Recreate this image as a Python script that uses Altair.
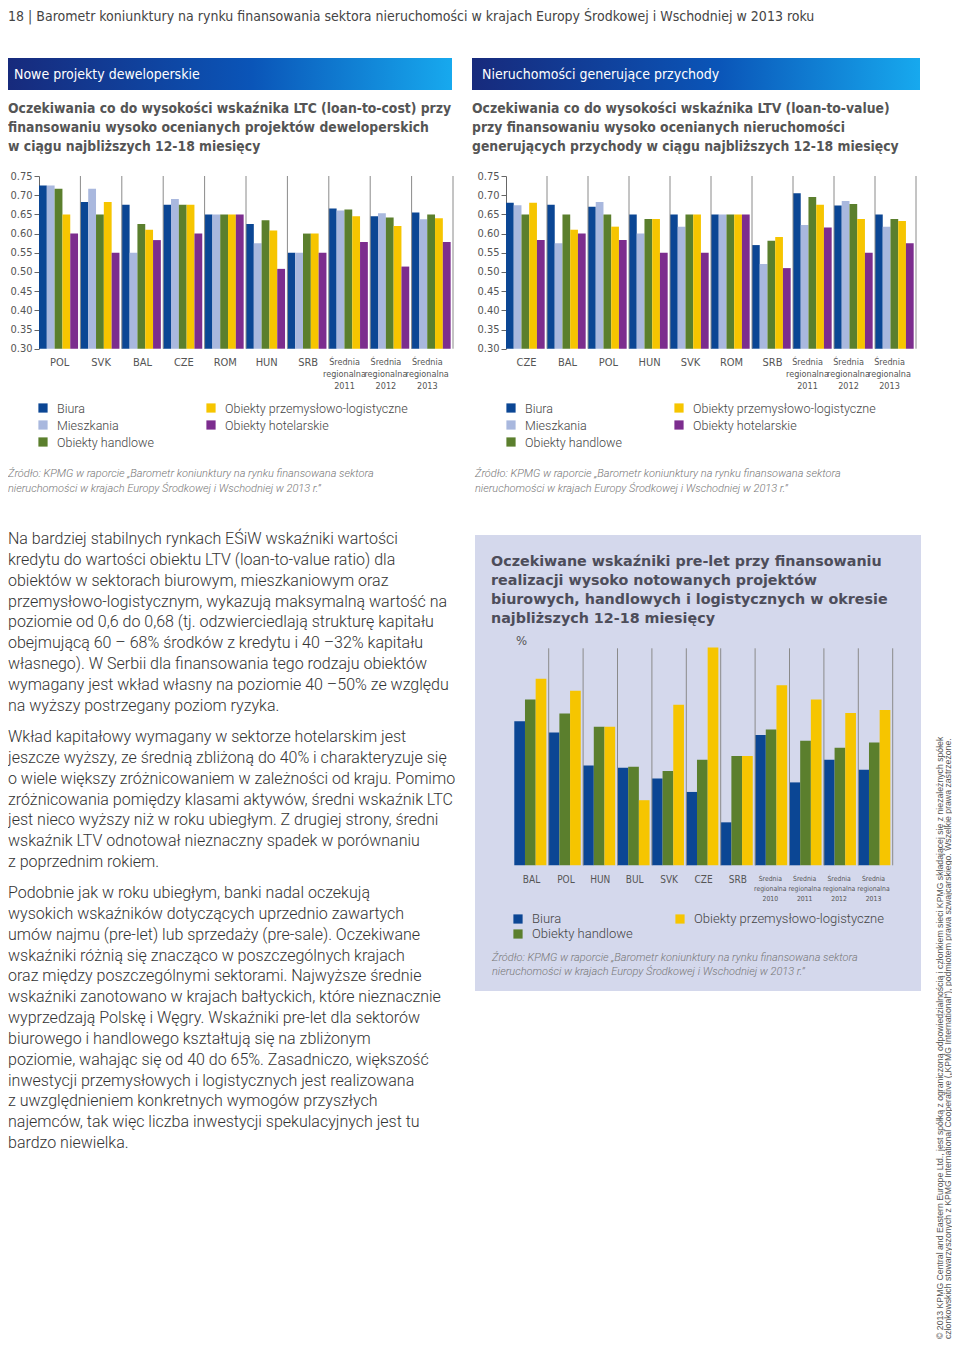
import altair as alt
import pandas as pd

# ---------------- data ----------------
SERIES = ["Biura", "Mieszkania", "Obiekty handlowe",
          "Obiekty przemysłowo-logistyczne", "Obiekty hotelarskie"]
COLORS = ["#0b4694", "#a9b8de", "#5b7f2d", "#f6c500", "#7c2d8e"]

ltc_cats = ["POL", "SVK", "BAL", "CZE", "ROM", "HUN", "SRB",
            "Średnia regionalna 2011", "Średnia regionalna 2012", "Średnia regionalna 2013"]
ltc_biura = [0.725, 0.682, 0.675, 0.675, 0.65, 0.625, 0.55, 0.665, 0.645, 0.655]
ltc_miesz = [0.725, 0.717, 0.55, 0.69, 0.65, 0.575, 0.55, 0.66, 0.653, 0.637]
ltc_handl = [0.717, 0.65, 0.625, 0.675, 0.65, 0.635, 0.60, 0.663, 0.642, 0.65]
ltc_przem = [0.65, 0.682, 0.61, 0.675, 0.65, 0.608, 0.60, 0.645, 0.62, 0.64]
ltc_hotel = [0.60, 0.55, 0.583, 0.60, 0.65, 0.508, 0.55, 0.578, 0.514, 0.578]

ltv_cats = ["CZE", "BAL", "POL", "HUN", "SVK", "ROM", "SRB",
            "Średnia regionalna 2011", "Średnia regionalna 2012", "Średnia regionalna 2013"]
ltv_biura = [0.68, 0.675, 0.67, 0.65, 0.65, 0.65, 0.57, 0.705, 0.673, 0.65]
ltv_miesz = [0.674, 0.575, 0.682, 0.60, 0.618, 0.65, 0.521, 0.622, 0.685, 0.618]
ltv_handl = [0.65, 0.65, 0.65, 0.638, 0.65, 0.65, 0.581, 0.695, 0.677, 0.638]
ltv_przem = [0.68, 0.61, 0.618, 0.638, 0.65, 0.65, 0.591, 0.675, 0.638, 0.633]
ltv_hotel = [0.583, 0.60, 0.583, 0.55, 0.55, 0.65, 0.51, 0.616, 0.55, 0.575]

pl_cats = ["BAL", "POL", "HUN", "BUL", "SVK", "CZE", "SRB",
           "Średnia regionalna 2010", "Średnia regionalna 2011",
           "Średnia regionalna 2012", "Średnia regionalna 2013"]
pl_series = ["Biura", "Obiekty handlowe", "Obiekty przemysłowo-logistyczne"]
pl_biura = [63.2, 60.6, 53.0, 52.5, 50.0, 46.9, 39.9, 60.0, 49.1, 54.3, 52.0]
pl_handl = [68.2, 65.0, 61.9, 52.7, 51.7, 54.3, 55.2, 61.3, 58.7, 57.1, 58.3]
pl_przem = [73.0, 70.2, 61.9, 45.0, 67.0, 80.2, 55.2, 71.5, 68.2, 65.1, 65.8]

ltc_ticks = [0.30, 0.35, 0.40, 0.45, 0.50, 0.55, 0.60, 0.65, 0.70, 0.75]
pl_ticks = [30, 35, 40, 45, 50, 55, 60, 65, 70, 75, 80]

page_header = ("18 | Barometr koniunktury na rynku finansowania sektora nieruchomości "
               "w krajach Europy Środkowej i Wschodniej w 2013 roku")
head_left = "Nowe projekty deweloperskie"
head_right = "Nieruchomości generujące przychody"
title_left = ["Oczekiwania co do wysokości wskaźnika LTC (loan-to-cost) przy",
              "finansowaniu wysoko ocenianych projektów deweloperskich",
              "w ciągu najbliższych 12-18 miesięcy"]
title_right = ["Oczekiwania co do wysokości wskaźnika LTV (loan-to-value)",
               "przy finansowaniu wysoko ocenianych nieruchomości",
               "generujących przychody w ciągu najbliższych 12-18 miesięcy"]
title_pl = ["Oczekiwane wskaźniki pre-let przy finansowaniu",
            "realizacji wysoko notowanych projektów",
            "biurowych, handlowych i logistycznych w okresie",
            "najbliższych 12-18 miesięcy"]
source = ["Źródło: KPMG w raporcie „Barometr koniunktury na rynku finansowana sektora",
          "nieruchomości w krajach Europy Środkowej i Wschodniej w 2013 r.”"]
para1 = ["Na bardziej stabilnych rynkach EŚiW wskaźniki wartości",
         "kredytu do wartości obiektu LTV (loan-to-value ratio) dla",
         "obiektów w sektorach biurowym, mieszkaniowym oraz",
         "przemysłowo-logistycznym, wykazują maksymalną wartość na",
         "poziomie od 0,6 do 0,68 (tj. odzwierciedlają strukturę kapitału",
         "obejmującą 60 – 68% środków z kredytu i 40 –32% kapitału",
         "własnego). W Serbii dla finansowania tego rodzaju obiektów",
         "wymagany jest wkład własny na poziomie 40 –50% ze względu",
         "na wyższy postrzegany poziom ryzyka."]
para2 = ["Wkład kapitałowy wymagany w sektorze hotelarskim jest",
         "jeszcze wyższy, ze średnią zbliżoną do 40% i charakteryzuje się",
         "o wiele większy zróżnicowaniem w zależności od kraju. Pomimo",
         "zróżnicowania pomiędzy klasami aktywów, średni wskaźnik LTC",
         "jest nieco wyższy niż w roku ubiegłym. Z drugiej strony, średni",
         "wskaźnik LTV odnotował nieznaczny spadek w porównaniu",
         "z poprzednim rokiem."]
para3 = ["Podobnie jak w roku ubiegłym, banki nadal oczekują",
         "wysokich wskaźników dotyczących uprzednio zawartych",
         "umów najmu (pre-let) lub sprzedaży (pre-sale). Oczekiwane",
         "wskaźniki różnią się znacząco w poszczególnych krajach",
         "oraz między poszczególnymi sektorami. Najwyższe średnie",
         "wskaźniki zanotowano w krajach bałtyckich, które nieznacznie",
         "wyprzedzają Polskę i Węgry. Wskaźniki pre-let dla sektorów",
         "biurowego i handlowego kształtują się na zbliżonym",
         "poziomie, wahając się od 40 do 65%. Zasadniczo, większość",
         "inwestycji przemysłowych i logistycznych jest realizowana",
         "z uwzględnieniem konkretnych wymogów przyszłych",
         "najemców, tak więc liczba inwestycji spekulacyjnych jest tu",
         "bardzo niewielka."]
copy1 = ("© 2013 KPMG Central and Eastern Europe Ltd., jest spółką z ograniczoną "
         "odpowiedzialnością i członkiem sieci KPMG składającej się z niezależnych spółek")
copy2 = ("członkowskich stowarzyszonych z KPMG International Cooperative („KPMG International”), "
         "podmiotem prawa szwajcarskiego. Wszelkie prawa zastrzeżone.")

# ---------------- helpers ----------------
NARROW = "Liberation Sans Narrow, Arial Narrow, DejaVu Sans Condensed, sans-serif"
BODY = "Roboto, Liberation Sans, sans-serif"
M = 8  # page margin
one = pd.DataFrame({"k": [0]})


def long_df(cats, names, values):
    rows = []
    for s, vals in zip(names, values):
        for c, v in zip(cats, vals):
            rows.append({"cat": c, "series": s, "value": v})
    return pd.DataFrame(rows)


def text_block(lines, x, yc, size, font=BODY, color="#333333", weight="normal",
               style="normal", lh=None, min_top=0):
    txt = lines if isinstance(lines, str) else (lines if len(lines) > 1 else lines[0])
    props = dict(text=txt, font=font, fontSize=size, fontWeight=weight, fontStyle=style,
                 color=color, align="left", baseline="top",
                 lineHeight=lh if lh else size * 1.2)
    ytop = yc - 0.44 * size
    return alt.Chart(one).mark_text(**props).encode(
        x=alt.value(x - M), y=alt.value(max(ytop - M, min_top)))


def rect(x1, x2, y1, y2, fill):
    return alt.Chart(one).mark_rect(fill=fill).encode(
        x=alt.value(max(x1 - M, 0)), x2=alt.value(x2 - M),
        y=alt.value(y1 - M), y2=alt.value(y2 - M))


def legend(items, col_x, ys, size=12.5):
    layers = []
    for name, cx, y in zip(items, col_x, ys):
        col = COLORS[SERIES.index(name)]
        layers.append(alt.Chart(one).mark_square(size=85, color=col, opacity=1).encode(
            x=alt.value(cx - M), y=alt.value(y - M)))
        layers.append(text_block(name, cx + 14, y, size, color="#444444", weight=300))
    return layers


def bar_chart(df, cats, series, xr, yr, ydom, yvals, yfmt, ylab_size,
              lab_y, lab_size, reg_size, reg_lh, reg_dx, pad_outer):
    xs = alt.Scale(domain=cats, range=xr, paddingInner=0, paddingOuter=0)
    ys = alt.Scale(domain=ydom, range=yr, nice=False, zero=False)
    os_ = alt.Scale(domain=series, paddingInner=0, paddingOuter=pad_outer, align=0)
    yaxis = alt.Axis(orient="left", offset=-xr[0], values=yvals, format=yfmt, title=None,
                     grid=False, labelFont=NARROW, labelFontSize=ylab_size,
                     labelColor="#555555", domainColor="#666666", tickColor="#666666",
                     tickSize=5, labelPadding=2)
    bars = alt.Chart(df).mark_bar().encode(
        x=alt.X("cat:N", scale=xs, axis=None, sort=cats),
        xOffset=alt.XOffset("series:N", scale=os_, sort=series),
        y=alt.Y("value:Q", scale=ys, axis=yaxis),
        y2=alt.datum(ydom[0]),
        color=alt.Color("series:N", scale=alt.Scale(domain=SERIES, range=COLORS), legend=None),
    )
    cat_df = pd.DataFrame({"cat": cats})
    sep = alt.Chart(cat_df.iloc[1:]).mark_rule(color="#8a8a8a", strokeWidth=1).encode(
        x=alt.X("cat:N", scale=xs, axis=None, bandPosition=0),
        y=alt.datum(ydom[0]), y2=alt.datum(ydom[1]))
    sep_end = alt.Chart(cat_df.iloc[-1:]).mark_rule(color="#8a8a8a", strokeWidth=1).encode(
        x=alt.X("cat:N", scale=xs, axis=None, bandPosition=1),
        y=alt.datum(ydom[0]), y2=alt.datum(ydom[1]))
    simple = pd.DataFrame({"cat": [c for c in cats if " " not in c]})
    regional = pd.DataFrame({"cat": [c for c in cats if " " in c]})
    lab1 = alt.Chart(simple).mark_text(font=NARROW, fontSize=lab_size, color="#555555",
                                       baseline="top").encode(
        x=alt.X("cat:N", scale=xs, axis=None), y=alt.value(lab_y - 0.44 * lab_size - M),
        text="cat:N")
    lab2 = alt.Chart(regional).mark_text(font=NARROW, fontSize=reg_size, color="#555555",
                                         baseline="top", lineBreak=" ", lineHeight=reg_lh,
                                         dx=reg_dx).encode(
        x=alt.X("cat:N", scale=xs, axis=None), y=alt.value(lab_y - 0.44 * reg_size - M),
        text="cat:N")
    return alt.layer(bars, sep, sep_end, lab1, lab2)


# ---------------- charts ----------------
ltc_df = long_df(ltc_cats, SERIES, [ltc_biura, ltc_miesz, ltc_handl, ltc_przem, ltc_hotel])
ltv_df = long_df(ltv_cats, SERIES, [ltv_biura, ltv_miesz, ltv_handl, ltv_przem, ltv_hotel])
pl_df = long_df(pl_cats, pl_series, [pl_biura, pl_handl, pl_przem])

chartA = bar_chart(ltc_df, ltc_cats, SERIES, [39 - M, 453 - M], [348.7 - M, 176 - M],
                   [0.30, 0.75], ltc_ticks, ".2f", 11, 362, 11, 9.0, 12, -5, 0.15)
chartB = bar_chart(ltv_df, ltv_cats, SERIES, [506 - M, 916 - M], [348.7 - M, 176 - M],
                   [0.30, 0.75], ltc_ticks, ".2f", 11, 362, 11, 9.0, 12, -6, 0.15)
chartC = bar_chart(pl_df, pl_cats, pl_series, [514.3 - M, 892.7 - M], [865.3 - M, 648.3 - M],
                   [30, 80], pl_ticks, "d", 13.5, 879, 10, 6.8, 10, -2, 0.11)

grad = alt.LinearGradient(
    gradient="linear",
    stops=[alt.GradientStop(color="#172a7c", offset=0),
           alt.GradientStop(color="#0a55b8", offset=0.55),
           alt.GradientStop(color="#17a9ee", offset=1)],
    x1=0, x2=1, y1=0, y2=0)

decor = [
    rect(475, 921, 535, 991, "#d4d8ec"),
    rect(4, 452, 58, 90, grad),
    rect(472, 920, 58, 90, grad),
    text_block(page_header, 8, 14, 14, font=NARROW, color="#444444", min_top=2),
    text_block(head_left, 14, 74, 14, font=NARROW, color="#ffffff"),
    text_block(head_right, 482, 74, 14, font=NARROW, color="#ffffff"),
    text_block(title_left, 8, 108, 13.8, font=NARROW, color="#555555", weight="bold", lh=19),
    text_block(title_right, 472, 108, 13.8, font=NARROW, color="#555555", weight="bold", lh=19),
    text_block(title_pl, 491, 561, 14.3, font="DejaVu Sans", color="#4d4d5a", weight="bold", lh=19),
    text_block("%", 516, 641, 13, font=NARROW, color="#555555"),
    text_block(source, 8, 473, 11, color="#777777", style="italic", weight=300, lh=14.5),
    text_block(source, 475, 473, 11, color="#777777", style="italic", weight=300, lh=14.5),
    text_block(source, 492, 957, 11, color="#777777", style="italic", weight=300, lh=14),
    text_block(para1, 8, 538, 16, color="#333333", weight=300, lh=20.85),
    text_block(para2, 8, 736, 16, color="#333333", weight=300, lh=20.85),
    text_block(para3, 8, 892, 16, color="#333333", weight=300, lh=20.85),
    alt.Chart(one).mark_text(text=copy1, font="Liberation Sans, sans-serif", fontSize=8.7,
                             color="#555555", angle=270, align="left", baseline="middle").encode(
        x=alt.value(940 - M), y=alt.value(1339 - M)),
    alt.Chart(one).mark_text(text=copy2, font="Liberation Sans, sans-serif", fontSize=8.7,
                             color="#555555", angle=270, align="left", baseline="middle").encode(
        x=alt.value(948 - M), y=alt.value(1339 - M)),
]
decor += legend(["Biura", "Mieszkania", "Obiekty handlowe",
                 "Obiekty przemysłowo-logistyczne", "Obiekty hotelarskie"],
                [43, 43, 43, 211, 211], [408, 425, 442, 408, 425])
decor += legend(["Biura", "Mieszkania", "Obiekty handlowe",
                 "Obiekty przemysłowo-logistyczne", "Obiekty hotelarskie"],
                [511, 511, 511, 679, 679], [408, 425, 442, 408, 425])
decor += legend(["Biura", "Obiekty handlowe", "Obiekty przemysłowo-logistyczne"],
                [518, 518, 680], [919, 934, 919], size=13)

chart = alt.layer(*decor, chartA, chartB, chartC).resolve_scale(
    x="independent", y="independent", xOffset="independent"
).resolve_axis(x="independent", y="independent").properties(
    width=944, height=1333,
    autosize=alt.AutoSizeParams(type="none"),
    padding=0, background="#ffffff",
).configure_view(stroke=None)

chart.save("out.html", embed_options={"renderer": "svg", "actions": False})
